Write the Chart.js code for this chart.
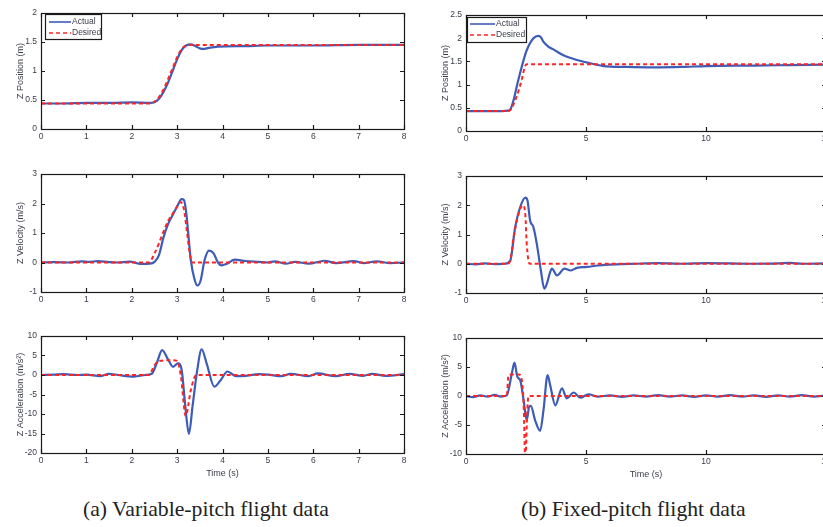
<!DOCTYPE html>
<html>
<head>
<meta charset="utf-8">
<script src="https://cdn.jsdelivr.net/npm/chart.js@4.4.1/dist/chart.umd.min.js"></script>
<style>
  body { margin: 0; width: 823px; height: 527px; overflow: hidden; background: #fff; position: relative; }
  canvas { position: absolute; }
  .cap { position: absolute; font-family: 'Liberation Serif', serif; font-size: 21.7px; line-height: 21px; color: #222; white-space: nowrap; }
</style>
</head>
<body>
<canvas id="posA"></canvas>
<canvas id="velA"></canvas>
<canvas id="accA"></canvas>
<canvas id="posB"></canvas>
<canvas id="velB"></canvas>
<canvas id="accB"></canvas>
<div class="cap" style="left:83px;top:499px">(a) Variable-pitch flight data</div>
<div class="cap" style="left:521px;top:499px">(b) Fixed-pitch flight data</div>
<script>
// ---- (a) variable pitch ----
const tPosActA = [0, 0.5, 1.0, 1.5, 2.0, 2.4, 2.5, 2.6, 2.7, 2.8, 2.9, 3.0, 3.1, 3.2, 3.3, 3.4, 3.5, 3.57, 3.7, 3.9, 4.5, 5.0, 6.0, 7.0, 8.0];
const posActA = [0.44, 0.44, 0.45, 0.45, 0.46, 0.45, 0.46, 0.52, 0.64, 0.80, 1.00, 1.20, 1.36, 1.44, 1.46, 1.43, 1.39, 1.38, 1.40, 1.42, 1.43, 1.44, 1.44, 1.45, 1.45];
const tPosDesA = [0, 2.4, 2.5, 2.6, 2.7, 2.8, 2.9, 3.0, 3.1, 3.2, 3.3, 8];
const posDesA = [0.44, 0.44, 0.47, 0.55, 0.68, 0.86, 1.05, 1.24, 1.38, 1.44, 1.45, 1.45];

const tVelActA = [0, 0.3, 0.6, 0.9, 1.05, 1.25, 1.5, 1.7, 1.95, 2.2, 2.4, 2.5, 2.6, 2.7, 2.8, 2.9, 3.0, 3.1, 3.15, 3.2, 3.25, 3.3, 3.38, 3.45, 3.52, 3.6, 3.7, 3.8, 3.9, 3.98, 4.1, 4.27, 4.5, 4.8, 5.0, 5.15, 5.4, 5.6, 5.9, 6.25, 6.5, 6.9, 7.1, 7.4, 7.7, 8];
const velActA = [0, 0.01, 0, 0.04, 0.02, 0.05, 0.01, 0, 0.03, -0.05, -0.04, 0.02, 0.25, 0.85, 1.3, 1.6, 1.9, 2.15, 2.12, 1.7, 0.9, 0.1, -0.55, -0.78, -0.6, 0.05, 0.4, 0.32, 0.0, -0.1, -0.04, 0.1, 0.05, 0.02, 0.0, 0.04, -0.04, 0.02, -0.04, 0.06, -0.02, 0.05, -0.02, 0.04, -0.02, 0];
const tVelDesA = [0, 2.38, 2.5, 2.6, 2.7, 2.8, 2.9, 3.0, 3.07, 3.15, 3.22, 3.28, 3.33, 8];
const velDesA = [0, 0, 0.3, 0.65, 1.05, 1.4, 1.65, 1.9, 2.05, 1.8, 1.0, 0.3, 0, 0];

const tAccActA = [0, 0.3, 0.5, 0.8, 1.0, 1.3, 1.5, 1.7, 2.05, 2.3, 2.44, 2.55, 2.67, 2.8, 2.91, 3.02, 3.1, 3.18, 3.26, 3.34, 3.44, 3.54, 3.65, 3.82, 3.95, 4.11, 4.3, 4.5, 4.8, 5.0, 5.3, 5.5, 5.9, 6.1, 6.5, 6.8, 7.1, 7.3, 7.6, 8];
const accActA = [0, 0.1, 0.2, 0, 0.1, -0.3, 0.3, 0, -0.4, 0, 0.3, 3.0, 6.4, 4.0, 2.1, 3.0, 1.3, -8.0, -15.1, -8.0, 1.0, 6.6, 3.0, -3.0, -1.5, 0.9, -0.3, -0.2, 0.2, 0.1, -0.3, 0.3, -0.3, 0.4, -0.3, 0.3, -0.2, 0.3, -0.2, 0.2];
const tAccDesA = [0, 2.38, 2.5, 2.6, 2.9, 3.0, 3.08, 3.19, 3.3, 3.42, 8];
const accDesA = [0, 0, 2.5, 3.6, 3.8, 3.6, 0, -10.5, -4, 0, 0];

// ---- (b) fixed pitch ----
const tPosActB = [0, 0.5, 1.0, 1.5, 1.75, 1.84, 2.0, 2.11, 2.32, 2.53, 2.81, 3.02, 3.12, 3.23, 3.43, 3.64, 4.06, 4.62, 5.17, 5.73, 6.7, 7.8, 9.0, 10, 12, 13.5, 15];
const posActB = [0.43, 0.43, 0.43, 0.43, 0.44, 0.46, 0.7, 0.95, 1.38, 1.74, 2.0, 2.05, 2.02, 1.92, 1.82, 1.76, 1.63, 1.53, 1.46, 1.40, 1.38, 1.37, 1.38, 1.40, 1.41, 1.42, 1.43];
const tPosDesB = [0, 1.7, 1.84, 2.1, 2.32, 2.46, 2.55, 15];
const posDesB = [0.43, 0.43, 0.45, 0.73, 1.1, 1.4, 1.44, 1.44];

const tVelActB = [0, 0.4, 0.8, 1.2, 1.6, 1.84, 2.05, 2.26, 2.47, 2.56, 2.67, 2.81, 2.95, 3.12, 3.26, 3.37, 3.5, 3.58, 3.79, 4.1, 4.35, 4.62, 5.04, 5.5, 6.0, 6.5, 7.0, 8.0, 9.0, 10.0, 11.0, 12.0, 13.0, 13.5, 14.0, 15];
const velActB = [0, -0.02, 0.01, -0.01, 0.0, 0.1, 1.25, 1.94, 2.26, 2.17, 1.48, 1.25, 0.68, -0.23, -0.85, -0.68, -0.3, -0.17, -0.4, -0.17, -0.23, -0.14, -0.11, -0.06, -0.03, -0.01, 0, 0.02, 0, 0.02, 0.01, 0, 0.01, 0.03, 0, 0.01];
const tVelDesB = [0, 1.7, 1.84, 1.98, 2.19, 2.37, 2.47, 2.53, 2.65, 15];
const velDesB = [0, 0, 0.1, 0.9, 1.7, 2.0, 1.7, 0.68, 0, 0];

const tAccActB = [0, 0.3, 0.6, 0.9, 1.2, 1.45, 1.7, 1.91, 2.02, 2.14, 2.26, 2.4, 2.53, 2.63, 2.7, 2.88, 3.09, 3.23, 3.4, 3.51, 3.72, 4.0, 4.2, 4.49, 4.76, 5.1, 5.5, 6.0, 6.5, 7.0, 7.5, 8.0, 8.5, 9.0, 9.5, 10.0, 10.5, 11.0, 11.5, 12.0, 12.5, 13.0, 13.5, 14.0, 14.5, 15];
const accActB = [0, -0.2, 0.1, -0.1, 0.2, -0.1, 0.1, 3.9, 5.75, 3.3, 2.7, -0.7, -4.2, -1.9, -1.7, -4.2, -6.0, -2.4, 3.6, 1.8, -1.6, 1.3, -0.4, 0.6, -0.3, 0.3, -0.1, 0.1, -0.15, 0.1, -0.1, 0.15, -0.1, 0.1, -0.15, 0.1, -0.1, 0.15, -0.1, 0.1, -0.15, 0.1, -0.1, 0.15, -0.1, 0.1];
const tAccDesB = [0, 1.7, 1.77, 1.9, 2.2, 2.26, 2.4, 2.47, 2.55, 2.6, 15];
const accDesB = [0, 0, 3.6, 3.7, 3.7, 3.6, -1.3, -11, -3, 0, 0];

const seriesNames = ['Actual', 'Desired'];
const blue = '#3d5cb8';
const red = '#ff2424';
const textCol = '#3a3e4a';
const fam = "'Liberation Sans', Arial, sans-serif";

function pts(t, v) { return t.map((x, i) => ({ x: x, y: v[i] })); }

// box frame with inward tick marks on all four sides (MATLAB look)
const frameTicks = {
  id: 'frameTicks',
  afterDatasetsDraw(chart) {
    const { ctx, chartArea: a, scales } = chart;
    const L = 4;
    ctx.save();
    ctx.strokeStyle = '#1a1a1a';
    ctx.lineWidth = 1.2;
    ctx.strokeRect(a.left + 0.5, a.top + 0.5, a.width, a.height);
    ctx.beginPath();
    scales.x.ticks.forEach(t => {
      const px = Math.round(scales.x.getPixelForValue(t.value)) + 0.5;
      ctx.moveTo(px, a.bottom); ctx.lineTo(px, a.bottom - L);
      ctx.moveTo(px, a.top); ctx.lineTo(px, a.top + L);
    });
    scales.y.ticks.forEach(t => {
      const py = Math.round(scales.y.getPixelForValue(t.value)) + 0.5;
      ctx.moveTo(a.left, py); ctx.lineTo(a.left + L, py);
      ctx.moveTo(a.right, py); ctx.lineTo(a.right - L, py);
    });
    ctx.stroke();
    ctx.restore();
  }
};

// small boxed legend inside the top-left corner of the plot
const boxLegend = {
  id: 'boxLegend',
  afterDraw(chart, args, o) {
    if (!o || !o.show) return;
    const { ctx, chartArea: a } = chart;
    const bx = a.left + o.dx, by = a.top + o.dy;
    ctx.save();
    ctx.fillStyle = '#fff';
    ctx.fillRect(bx, by, o.w, o.h);
    ctx.strokeStyle = '#1a1a1a';
    ctx.lineWidth = 1.2;
    ctx.strokeRect(bx + 0.5, by + 0.5, o.w, o.h);
    ctx.font = '8.5px ' + fam;
    ctx.textBaseline = 'middle';
    chart.data.datasets.forEach((ds, i) => {
      const y = by + o.rows[i];
      ctx.beginPath();
      ctx.strokeStyle = ds.borderColor;
      ctx.lineWidth = 1.6;
      ctx.setLineDash(ds.borderDash || []);
      ctx.moveTo(bx + o.l0, y); ctx.lineTo(bx + o.l1, y);
      ctx.stroke();
      ctx.setLineDash([]);
      ctx.fillStyle = textCol;
      ctx.fillText(ds.label, bx + o.tx, y);
    });
    ctx.restore();
  }
};

function makePlot(id, box, xr, yr, yTitle, actual, desired, xTitle, legend) {
  const AXW = 45, PADT = 10, PADR = 12;
  const xh = xTitle ? 30 : 16;
  const cv = document.getElementById(id);
  cv.width = AXW + box.w + PADR;
  cv.height = PADT + box.h + xh;
  cv.style.left = (box.x - AXW) + 'px';
  cv.style.top = (box.y - PADT) + 'px';
  const fmt = v => String(Math.round(v * 100) / 100);
  return new Chart(cv, {
    type: 'line',
    data: {
      datasets: [
        { label: seriesNames[0], data: actual, borderColor: blue, borderWidth: 2.2, pointRadius: 0, cubicInterpolationMode: 'monotone', order: 1 },
        { label: seriesNames[1], data: desired, borderColor: red, borderWidth: 2, borderDash: [4, 3], pointRadius: 0, cubicInterpolationMode: 'monotone', order: 0 }
      ]
    },
    options: {
      responsive: false,
      animation: false,
      devicePixelRatio: 1,
      layout: { padding: { top: PADT, right: PADR, left: 0, bottom: 0 } },
      plugins: {
        legend: { display: false },
        tooltip: { enabled: false },
        boxLegend: legend || { show: false }
      },
      scales: {
        x: {
          type: 'linear', min: xr[0], max: xr[1],
          grid: { display: false, drawTicks: false },
          border: { display: false },
          ticks: { stepSize: xr[2], padding: 3, color: textCol, font: { size: 8.5, family: fam }, callback: fmt, maxRotation: 0 },
          title: { display: !!xTitle, text: xTitle || '', color: textCol, font: { size: 9, family: fam }, padding: { top: 0, bottom: 4 } },
          afterFit: s => { s.height = xh; }
        },
        y: {
          type: 'linear', min: yr[0], max: yr[1],
          grid: { display: false, drawTicks: false },
          border: { display: false },
          ticks: { stepSize: yr[2], padding: 4, color: textCol, font: { size: 8.5, family: fam }, callback: fmt },
          title: { display: true, text: yTitle, color: textCol, font: { size: 9, family: fam }, padding: { top: 19, bottom: 0 } },
          afterFit: s => { s.width = AXW; }
        }
      }
    },
    plugins: [frameTicks, boxLegend]
  });
}

const legA = { show: true, dx: 4, dy: 1, w: 56, h: 25, rows: [8, 19], l0: 4, l1: 26, tx: 27 };
const legB = { show: true, dx: 1, dy: 2, w: 59, h: 25, rows: [7, 18], l0: 3, l1: 28, tx: 29 };

makePlot('posA', { x: 41, y: 13, w: 363, h: 116 }, [0, 8, 1], [0, 2, 0.5], 'Z Position (m)',
  pts(tPosActA, posActA), pts(tPosDesA, posDesA), null, legA);
makePlot('velA', { x: 41, y: 174, w: 363, h: 118 }, [0, 8, 1], [-1, 3, 1], 'Z Velocity (m/s)',
  pts(tVelActA, velActA), pts(tVelDesA, velDesA), null, null);
makePlot('accA', { x: 41, y: 336, w: 363, h: 117 }, [0, 8, 1], [-20, 10, 5], 'Z Acceleration (m/s²)',
  pts(tAccActA, accActA), pts(tAccDesA, accDesA), 'Time (s)', null);

makePlot('posB', { x: 466, y: 15, w: 360, h: 116 }, [0, 15, 5], [0, 2.5, 0.5], 'Z Position (m)',
  pts(tPosActB, posActB), pts(tPosDesB, posDesB), null, legB);
makePlot('velB', { x: 466, y: 176, w: 360, h: 117 }, [0, 15, 5], [-1, 3, 1], 'Z Velocity (m/s)',
  pts(tVelActB, velActB), pts(tVelDesB, velDesB), null, null);
makePlot('accB', { x: 466, y: 338, w: 360, h: 116 }, [0, 15, 5], [-10, 10, 5], 'Z Acceleration (m/s²)',
  pts(tAccActB, accActB), pts(tAccDesB, accDesB), 'Time (s)', null);
</script>
</body>
</html>
